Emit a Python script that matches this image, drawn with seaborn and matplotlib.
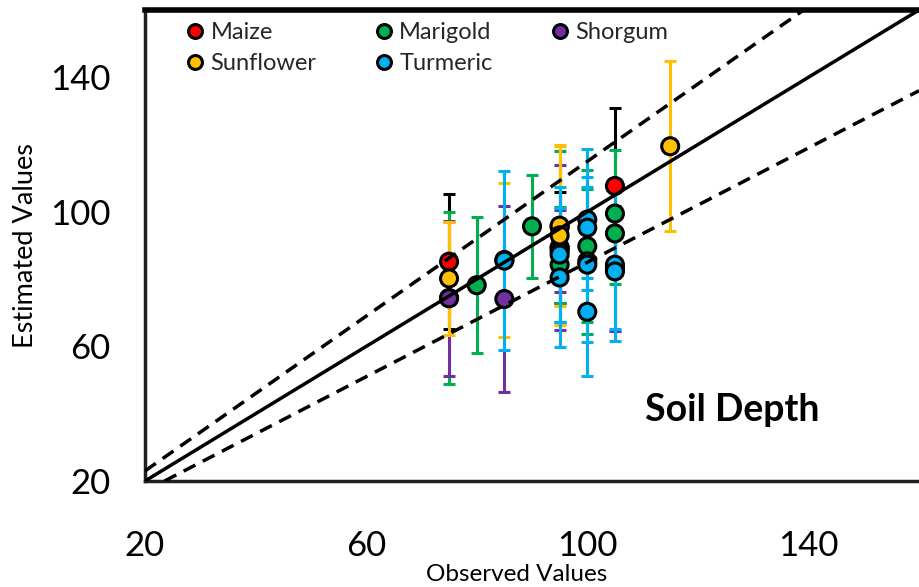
import numpy as np
import pandas as pd
import matplotlib
matplotlib.use("Agg")
import matplotlib.pyplot as plt
from matplotlib.lines import Line2D
import seaborn as sns

# ---------------- data ----------------
crops = ["Maize", "Marigold", "Shorgum", "Sunflower", "Turmeric"]

maize_obs = [75, 95, 105]
maize_est = [85.2, 89.4, 107.7]
maize_err = [20.0, 16.5, 23.3]

marigold_obs = [75, 80, 90, 95, 95, 100, 100, 105, 105]
marigold_est = [74.4, 78.2, 95.7, 95.5, 84.3, 89.8, 85.3, 99.5, 93.6]
marigold_err = [25.5, 20.2, 15.4, 22.6, 17.0, 22.6, 21.6, 19.0, 15.0]

shorgum_obs = [75, 85, 95, 95, 105]
shorgum_est = [74.3, 74.1, 89.4, 88.4, 83.1]
shorgum_err = [23.0, 27.5, 24.5, 12.3, 18.6]

sunflower_obs = [75, 85, 95, 95, 115]
sunflower_est = [80.2, 85.7, 95.9, 93.0, 119.5]
sunflower_err = [16.7, 23.0, 24.0, 26.5, 25.3]

turmeric_obs = [85, 95, 95, 100, 100, 100, 100, 105, 105]
turmeric_est = [85.5, 87.3, 80.5, 97.7, 95.3, 84.3, 70.3, 84.3, 82.3]
turmeric_err = [26.5, 20.0, 20.7, 21.0, 15.0, 23.0, 19.0, 22.7, 17.0]

x_ticks = [20, 60, 100, 140]
y_ticks = [20, 60, 100, 140]
panel_title = "Soil Depth"
upper_slope = 1.15
lower_slope = 0.85

marker_colors = {"Maize": "#FF0000", "Marigold": "#00B050", "Shorgum": "#7030A0",
                 "Sunflower": "#FFC000", "Turmeric": "#00B0F0"}
errbar_colors = {"Maize": "#000000", "Marigold": "#00B050", "Shorgum": "#7030A0",
                 "Sunflower": "#FFC000", "Turmeric": "#00B0F0"}

series = {
    "Maize": (maize_obs, maize_est, maize_err),
    "Marigold": (marigold_obs, marigold_est, marigold_err),
    "Shorgum": (shorgum_obs, shorgum_est, shorgum_err),
    "Sunflower": (sunflower_obs, sunflower_est, sunflower_err),
    "Turmeric": (turmeric_obs, turmeric_est, turmeric_err),
}

frames = []
for c in crops:
    o, e, r = series[c]
    frames.append(pd.DataFrame({"crop": c, "obs": o, "est": e, "err": r}))
df = pd.concat(frames, ignore_index=True)

# ---------------- style ----------------
sns.set_theme(style="white")
plt.rcParams["font.family"] = ["Lato", "DejaVu Sans"]

fig = plt.figure(figsize=(9.19, 5.87), dpi=100)
ax = fig.add_axes([145 / 919, 1 - 481 / 587, 774 / 919, 471 / 587])

# error bars
for i, c in enumerate(crops):
    sub = df[df.crop == c]
    ax.errorbar(sub.obs, sub.est, yerr=sub.err, fmt="none",
                ecolor=errbar_colors[c], elinewidth=2.2, capsize=4.5,
                capthick=2.2, zorder=2 + i * 0.01)

# points
sns.scatterplot(data=df, x="obs", y="est", hue="crop", hue_order=crops,
                palette=marker_colors, s=150, edgecolor="black", linewidth=2.2,
                legend=False, zorder=5, ax=ax)

# reference lines
ax.axline((20, 20), slope=1.0, color="black", lw=2.5, zorder=10)
ax.axline((0, 0), slope=upper_slope, color="black", lw=2.5, dashes=(3.8, 2.4), zorder=10)
ax.axline((0, 0), slope=lower_slope, color="black", lw=2.5, dashes=(3.8, 2.4), zorder=10)

ax.set_xlim(20, 160)
ax.set_ylim(20, 160)
ax.set_xticks(x_ticks)
ax.set_yticks(y_ticks)
ax.set_xticklabels([str(t) for t in x_ticks])
ax.set_yticklabels([str(t) for t in y_ticks])

ax.tick_params(axis="both", direction="out", length=7, width=1.5, color="#808080",
               labelsize=25, labelcolor="black")
ax.tick_params(axis="x", pad=28)
ax.tick_params(axis="y", pad=18)

for s in ["left", "bottom"]:
    ax.spines[s].set_visible(True)
    ax.spines[s].set_color("#202020")
    ax.spines[s].set_linewidth(2.5)
ax.spines["top"].set_visible(True)
ax.spines["top"].set_color("black")
ax.spines["top"].set_linewidth(4)
ax.spines["right"].set_visible(False)

ax.set_xlabel("Observed Values", fontsize=17.5, color="black")
ax.set_ylabel("Estimated Values", fontsize=19.5, color="black")
ax.xaxis.set_label_coords((517 - 145) / 774, -(564 - 481) / 471)
ax.yaxis.set_label_coords(-(145 - 38) / 774, 0.5)

ax.text(126.3, 41.1, panel_title, fontsize=27, fontweight="bold",
        ha="center", va="center", color="black")

# legend (column-major order to give rows Maize/Marigold/Shorgum, Sunflower/Turmeric)
legend_order = ["Maize", "Sunflower", "Marigold", "Turmeric", "Shorgum"]
handles = [Line2D([], [], marker="o", linestyle="none", markersize=10,
                  markerfacecolor=marker_colors[c], markeredgecolor="black",
                  markeredgewidth=2.2, label=c) for c in legend_order]
ax.legend(handles=handles, loc="upper left", ncol=3, frameon=False,
          bbox_to_anchor=((187 - 145) / 774, 1 - (22 - 10) / 471),
          fontsize=17, handlelength=0.7, handletextpad=0.3,
          columnspacing=2.5, labelspacing=0.42, borderaxespad=0, borderpad=0)

fig.savefig("out.png", dpi=100)
